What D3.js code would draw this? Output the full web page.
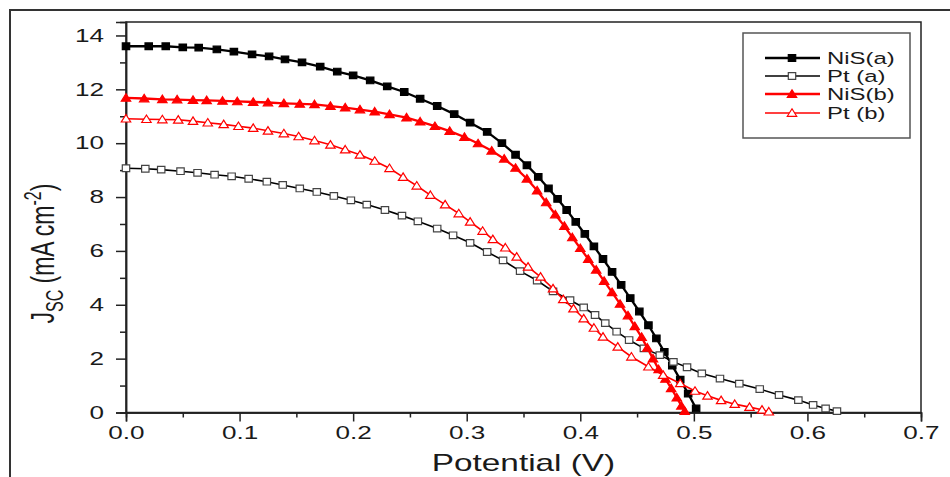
<!DOCTYPE html>
<html>
<head>
<meta charset="utf-8">
<script src="https://cdn.jsdelivr.net/npm/d3@7"></script>
<style>
  body { margin: 0; background: #fff; }
  text { font-family: "Liberation Sans", Arial, sans-serif; fill: #1a1a1a; }
</style>
</head>
<body>
<div id="chart"></div>
<script>
// J-V curves, [potential (V), current density (mA cm-2)]
const nisA = [[0,13.6],[0.02,13.6],[0.035,13.6],[0.05,13.56],[0.064,13.55],[0.08,13.48],[0.095,13.4],[0.111,13.3],
  [0.126,13.22],[0.14,13.11],[0.155,13.0],[0.171,12.84],[0.186,12.66],[0.2,12.52],[0.215,12.33],[0.23,12.11],
  [0.245,11.9],[0.259,11.65],[0.274,11.38],[0.289,11.08],[0.303,10.76],[0.318,10.42],[0.331,10.0],[0.343,9.57],
  [0.353,9.18],[0.363,8.75],[0.372,8.32],[0.38,7.93],[0.388,7.52],[0.396,7.08],[0.404,6.63],[0.412,6.17],
  [0.42,5.7],[0.428,5.22],[0.436,4.74],[0.444,4.25],[0.452,3.75],[0.46,3.24],[0.467,2.75],[0.474,2.25],
  [0.481,1.74],[0.488,1.22],[0.495,0.7],[0.502,0.15]];

const ptA = [[0,9.07],[0.017,9.05],[0.031,9.02],[0.048,8.96],[0.063,8.9],[0.078,8.83],[0.093,8.77],[0.108,8.68],
  [0.124,8.57],[0.138,8.45],[0.153,8.32],[0.168,8.19],[0.183,8.04],[0.198,7.88],[0.212,7.72],[0.228,7.52],
  [0.243,7.31],[0.257,7.1],[0.274,6.83],[0.288,6.58],[0.303,6.3],[0.318,5.96],[0.332,5.65],[0.347,5.25],
  [0.362,4.9],[0.376,4.5],[0.391,4.17],[0.403,3.9],[0.413,3.62],[0.422,3.32],[0.432,3.0],[0.443,2.69],
  [0.456,2.38],[0.47,2.13],[0.482,1.88],[0.494,1.68],[0.507,1.45],[0.523,1.26],[0.54,1.07],[0.558,0.87],
  [0.575,0.65],[0.592,0.46],[0.605,0.28],[0.616,0.15],[0.626,0.05]];

const nisB = [[0,11.68],[0.016,11.66],[0.032,11.63],[0.045,11.62],[0.059,11.6],[0.071,11.59],[0.085,11.57],
  [0.098,11.55],[0.112,11.53],[0.125,11.51],[0.139,11.48],[0.153,11.46],[0.166,11.44],[0.18,11.38],[0.193,11.32],
  [0.206,11.25],[0.219,11.17],[0.232,11.07],[0.247,10.95],[0.259,10.8],[0.272,10.63],[0.285,10.45],[0.298,10.23],
  [0.31,9.99],[0.322,9.72],[0.333,9.42],[0.343,9.08],[0.353,8.68],[0.362,8.24],[0.37,7.8],[0.378,7.35],
  [0.386,6.92],[0.393,6.5],[0.4,6.1],[0.407,5.7],[0.414,5.3],[0.421,4.88],[0.428,4.46],[0.435,4.03],
  [0.442,3.6],[0.448,3.2],[0.454,2.8],[0.459,2.4],[0.464,2.0],[0.469,1.6],[0.475,1.25],[0.48,0.9],
  [0.485,0.55],[0.489,0.25],[0.492,0.05]];

const ptB = [[0,10.91],[0.018,10.89],[0.032,10.88],[0.046,10.87],[0.059,10.82],[0.072,10.76],[0.086,10.7],
  [0.099,10.63],[0.112,10.56],[0.125,10.46],[0.139,10.36],[0.152,10.25],[0.166,10.1],[0.18,9.94],[0.193,9.76],
  [0.206,9.57],[0.219,9.34],[0.232,9.07],[0.244,8.74],[0.256,8.42],[0.268,8.07],[0.281,7.72],[0.293,7.39],
  [0.303,7.08],[0.314,6.74],[0.323,6.43],[0.334,6.12],[0.344,5.78],[0.354,5.41],[0.365,5.04],[0.376,4.6],
  [0.385,4.2],[0.394,3.86],[0.403,3.49],[0.412,3.14],[0.42,2.81],[0.433,2.44],[0.445,2.07],[0.46,1.7],
  [0.473,1.39],[0.488,1.08],[0.501,0.8],[0.512,0.62],[0.524,0.45],[0.536,0.31],[0.549,0.2],[0.56,0.1],[0.566,0.03]];

const xTicks = [0, 0.1, 0.2, 0.3, 0.4, 0.5, 0.6, 0.7];
const xMinor = [0.05, 0.15, 0.25, 0.35, 0.45, 0.55, 0.65];
const yTicks = [0, 2, 4, 6, 8, 10, 12, 14];
const yMinor = [1, 3, 5, 7, 9, 11, 13];

const series = [
  { name: "NiS(a)", data: nisA, color: "#000", marker: "square", filled: true, width: 2.3 },
  { name: "Pt (a)", data: ptA, color: "#000", marker: "square", filled: false, width: 1.6 },
  { name: "NiS(b)", data: nisB, color: "#ff0000", marker: "triangle", filled: true, width: 2.3 },
  { name: "Pt (b)", data: ptB, color: "#ff0000", marker: "triangle", filled: false, width: 1.6 }
];

const W = 950, H = 477;
const margin = { top: 22, right: 29, bottom: 64.5, left: 126 };
const sx = 1.45; // the figure is stretched sideways

const svg = d3.select("#chart").append("svg")
  .attr("width", W)
  .attr("height", H);

// outer figure frame
svg.append("rect")
  .attr("x", 10).attr("y", 10)
  .attr("width", 980).attr("height", 500)
  .attr("fill", "none")
  .attr("stroke", "#333")
  .attr("stroke-width", 2);

const x = d3.scaleLinear().domain([0, 0.7]).range([margin.left, W - margin.right]);
const y = d3.scaleLinear().domain([0, 14.5]).range([H - margin.bottom, margin.top]);

// plot box
svg.append("rect")
  .attr("x", x(0)).attr("y", y(14.5))
  .attr("width", x(0.7) - x(0)).attr("height", y(0) - y(14.5))
  .attr("fill", "none")
  .attr("stroke", "#222")
  .attr("stroke-width", 1.5);

// axes
const xAxis = svg.append("g")
  .attr("transform", `translate(0,${y(0)})`)
  .call(d3.axisBottom(x).tickValues(xTicks).tickSize(9).tickFormat(d3.format(".1f")));
svg.append("g")
  .attr("transform", `translate(0,${y(0)})`)
  .call(d3.axisBottom(x).tickValues(xMinor).tickSize(5).tickFormat(""));
const yAxis = svg.append("g")
  .attr("transform", `translate(${x(0)},0)`)
  .call(d3.axisLeft(y).tickValues(yTicks).tickSize(10));
svg.append("g")
  .attr("transform", `translate(${x(0)},0)`)
  .call(d3.axisLeft(y).tickValues(yMinor).tickSize(6).tickFormat(""));

svg.selectAll(".domain").attr("stroke", "#222").attr("stroke-width", 1.5);
svg.selectAll(".tick line").attr("stroke", "#222").attr("stroke-width", 1.5);

xAxis.selectAll("text")
  .attr("y", 27).attr("dy", 0)
  .attr("transform", `scale(${sx},1)`)
  .style("font-size", "18px");
yAxis.selectAll("text")
  .attr("x", -22 / sx)
  .attr("transform", `scale(${sx},1)`)
  .style("font-size", "18px");

// markers
function markerPath(type) {
  if (type === "square") return "M-3.7,-3.3V3.3H3.7V-3.3Z";
  return "M0,-4.2L4.7,3.3H-4.7Z";
}

const line = d3.line()
  .x(d => x(d[0]))
  .y(d => y(d[1]));

series.forEach(s => {
  svg.append("path")
    .datum(s.data)
    .attr("fill", "none")
    .attr("stroke", s.color)
    .attr("stroke-width", s.width)
    .attr("d", line);

  svg.append("g").selectAll("path")
    .data(s.data)
    .enter()
    .append("path")
    .attr("transform", d => `translate(${x(d[0])},${y(d[1])})`)
    .attr("d", markerPath(s.marker))
    .attr("fill", s.filled ? s.color : "#fff")
    .attr("stroke", s.filled ? s.color : (s.color === "#000" ? "#444" : s.color))
    .attr("stroke-width", 1.2);
});

// legend
const legend = svg.append("g");
legend.append("rect")
  .attr("x", 743).attr("y", 33)
  .attr("width", 167).attr("height", 105)
  .attr("fill", "#fff")
  .attr("stroke", "#555")
  .attr("stroke-width", 1.5);

const legendY = [58, 76, 94, 113];
series.forEach((s, i) => {
  const g = legend.append("g").attr("transform", `translate(0,${legendY[i]})`);
  g.append("line")
    .attr("x1", 765).attr("x2", 820)
    .attr("stroke", s.color)
    .attr("stroke-width", s.width);
  g.append("path")
    .attr("transform", "translate(792,0)")
    .attr("d", markerPath(s.marker))
    .attr("fill", s.filled ? s.color : "#fff")
    .attr("stroke", s.filled ? s.color : (s.color === "#000" ? "#444" : s.color))
    .attr("stroke-width", 1.2);
  g.append("text")
    .attr("transform", `translate(827,6) scale(${sx},1)`)
    .style("font-size", "16.5px")
    .text(s.name);
});

// X-axis label
svg.append("text")
  .attr("transform", `translate(${(x(0) + x(0.7)) / 2},471) scale(${sx},1)`)
  .attr("text-anchor", "middle")
  .style("font-size", "23px")
  .text("Potential (V)");

// Y-axis label
const yLabel = svg.append("text")
  .attr("transform", `translate(54,${y(5.9)}) rotate(-90) scale(1,${sx})`)
  .attr("text-anchor", "middle")
  .style("font-size", "23px");
yLabel.append("tspan").text("J");
yLabel.append("tspan").attr("dy", 6).style("font-size", "16px").text("SC");
yLabel.append("tspan").attr("dy", -6).text(" (mA cm");
yLabel.append("tspan").attr("dy", -9).style("font-size", "16px").text("-2");
yLabel.append("tspan").attr("dy", 9).text(")");
</script>
</body>
</html>
